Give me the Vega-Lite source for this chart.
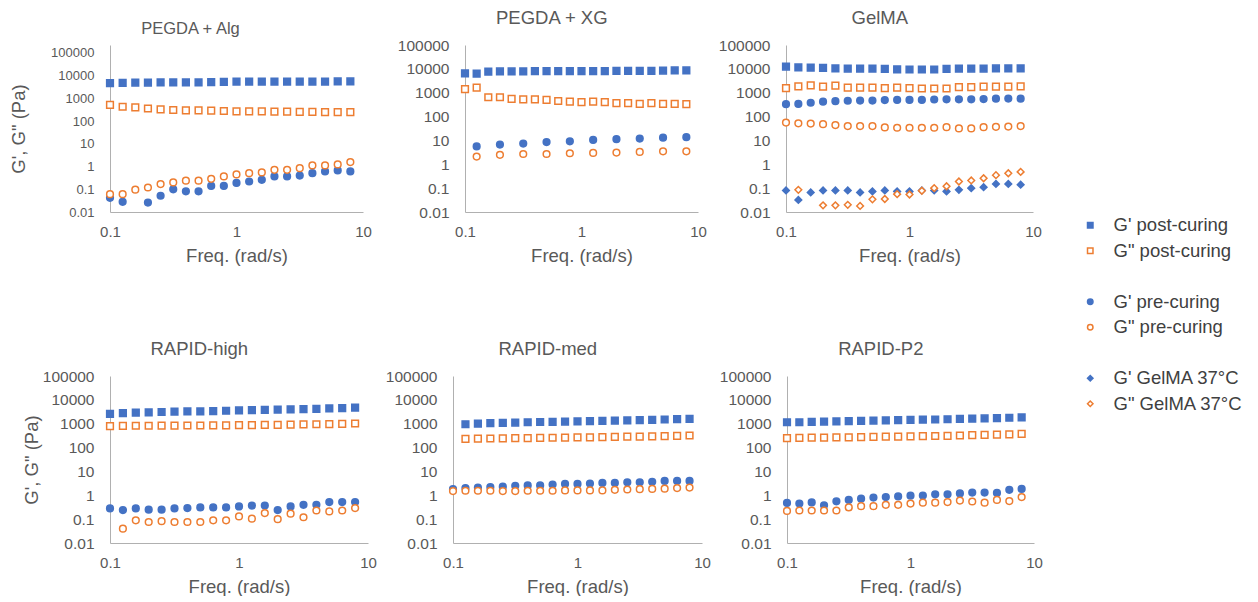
{
"$schema":"https://vega.github.io/schema/vega-lite/v6.json",
"padding":{"left":9,"top":8,"right":0,"bottom":0},
"background":"white",
"data":{"values":[
{"p":"A","s":"G' post-curing","f":0.1,"v":4700},{"p":"A","s":"G' post-curing","f":0.1259,"v":4800},{"p":"A","s":"G' post-curing","f":0.1585,"v":5000},{"p":"A","s":"G' post-curing","f":0.1995,"v":5000},{"p":"A","s":"G' post-curing","f":0.2512,"v":5100},{"p":"A","s":"G' post-curing","f":0.3162,"v":5100},{"p":"A","s":"G' post-curing","f":0.3981,"v":5100},{"p":"A","s":"G' post-curing","f":0.5012,"v":5100},{"p":"A","s":"G' post-curing","f":0.631,"v":5200},{"p":"A","s":"G' post-curing","f":0.7943,"v":5400},{"p":"A","s":"G' post-curing","f":1,"v":5500},{"p":"A","s":"G' post-curing","f":1.259,"v":5500},{"p":"A","s":"G' post-curing","f":1.585,"v":5500},{"p":"A","s":"G' post-curing","f":1.995,"v":5500},{"p":"A","s":"G' post-curing","f":2.512,"v":5500},{"p":"A","s":"G' post-curing","f":3.162,"v":5500},{"p":"A","s":"G' post-curing","f":3.981,"v":5500},{"p":"A","s":"G' post-curing","f":5.012,"v":5500},{"p":"A","s":"G' post-curing","f":6.31,"v":5600},{"p":"A","s":"G' post-curing","f":7.943,"v":5600},
{"p":"A","s":"G\" post-curing","f":0.1,"v":520},{"p":"A","s":"G\" post-curing","f":0.1259,"v":430},{"p":"A","s":"G\" post-curing","f":0.1585,"v":400},{"p":"A","s":"G\" post-curing","f":0.1995,"v":360},{"p":"A","s":"G\" post-curing","f":0.2512,"v":330},{"p":"A","s":"G\" post-curing","f":0.3162,"v":310},{"p":"A","s":"G\" post-curing","f":0.3981,"v":300},{"p":"A","s":"G\" post-curing","f":0.5012,"v":300},{"p":"A","s":"G\" post-curing","f":0.631,"v":290},{"p":"A","s":"G\" post-curing","f":0.7943,"v":280},{"p":"A","s":"G\" post-curing","f":1,"v":270},{"p":"A","s":"G\" post-curing","f":1.259,"v":270},{"p":"A","s":"G\" post-curing","f":1.585,"v":270},{"p":"A","s":"G\" post-curing","f":1.995,"v":265},{"p":"A","s":"G\" post-curing","f":2.512,"v":260},{"p":"A","s":"G\" post-curing","f":3.162,"v":255},{"p":"A","s":"G\" post-curing","f":3.981,"v":255},{"p":"A","s":"G\" post-curing","f":5.012,"v":250},{"p":"A","s":"G\" post-curing","f":6.31,"v":250},{"p":"A","s":"G\" post-curing","f":7.943,"v":250},
{"p":"A","s":"G' pre-curing","f":0.1,"v":0.042},{"p":"A","s":"G' pre-curing","f":0.1259,"v":0.028},{"p":"A","s":"G' pre-curing","f":0.1995,"v":0.026},{"p":"A","s":"G' pre-curing","f":0.2512,"v":0.052},{"p":"A","s":"G' pre-curing","f":0.3162,"v":0.1},{"p":"A","s":"G' pre-curing","f":0.3981,"v":0.081},{"p":"A","s":"G' pre-curing","f":0.5012,"v":0.081},{"p":"A","s":"G' pre-curing","f":0.631,"v":0.14},{"p":"A","s":"G' pre-curing","f":0.7943,"v":0.14},{"p":"A","s":"G' pre-curing","f":1,"v":0.19},{"p":"A","s":"G' pre-curing","f":1.259,"v":0.22},{"p":"A","s":"G' pre-curing","f":1.585,"v":0.26},{"p":"A","s":"G' pre-curing","f":1.995,"v":0.37},{"p":"A","s":"G' pre-curing","f":2.512,"v":0.37},{"p":"A","s":"G' pre-curing","f":3.162,"v":0.4},{"p":"A","s":"G' pre-curing","f":3.981,"v":0.51},{"p":"A","s":"G' pre-curing","f":5.012,"v":0.61},{"p":"A","s":"G' pre-curing","f":6.31,"v":0.68},{"p":"A","s":"G' pre-curing","f":7.943,"v":0.61},
{"p":"A","s":"G\" pre-curing","f":0.1,"v":0.061},{"p":"A","s":"G\" pre-curing","f":0.1259,"v":0.061},{"p":"A","s":"G\" pre-curing","f":0.1585,"v":0.096},{"p":"A","s":"G\" pre-curing","f":0.1995,"v":0.12},{"p":"A","s":"G\" pre-curing","f":0.2512,"v":0.17},{"p":"A","s":"G\" pre-curing","f":0.3162,"v":0.2},{"p":"A","s":"G\" pre-curing","f":0.3981,"v":0.24},{"p":"A","s":"G\" pre-curing","f":0.5012,"v":0.24},{"p":"A","s":"G\" pre-curing","f":0.631,"v":0.29},{"p":"A","s":"G\" pre-curing","f":0.7943,"v":0.37},{"p":"A","s":"G\" pre-curing","f":1,"v":0.45},{"p":"A","s":"G\" pre-curing","f":1.259,"v":0.51},{"p":"A","s":"G\" pre-curing","f":1.585,"v":0.55},{"p":"A","s":"G\" pre-curing","f":1.995,"v":0.72},{"p":"A","s":"G\" pre-curing","f":2.512,"v":0.72},{"p":"A","s":"G\" pre-curing","f":3.162,"v":0.85},{"p":"A","s":"G\" pre-curing","f":3.981,"v":1.12},{"p":"A","s":"G\" pre-curing","f":5.012,"v":1.12},{"p":"A","s":"G\" pre-curing","f":6.31,"v":1.24},{"p":"A","s":"G\" pre-curing","f":7.943,"v":1.58},
{"p":"X","s":"G' post-curing","f":0.1,"v":6500},{"p":"X","s":"G' post-curing","f":0.1259,"v":6300},{"p":"X","s":"G' post-curing","f":0.1585,"v":7600},{"p":"X","s":"G' post-curing","f":0.1995,"v":7800},{"p":"X","s":"G' post-curing","f":0.2512,"v":7800},{"p":"X","s":"G' post-curing","f":0.3162,"v":7900},{"p":"X","s":"G' post-curing","f":0.3981,"v":8000},{"p":"X","s":"G' post-curing","f":0.5012,"v":8000},{"p":"X","s":"G' post-curing","f":0.631,"v":8000},{"p":"X","s":"G' post-curing","f":0.7943,"v":8100},{"p":"X","s":"G' post-curing","f":1,"v":8100},{"p":"X","s":"G' post-curing","f":1.259,"v":8100},{"p":"X","s":"G' post-curing","f":1.585,"v":8100},{"p":"X","s":"G' post-curing","f":1.995,"v":8200},{"p":"X","s":"G' post-curing","f":2.512,"v":8200},{"p":"X","s":"G' post-curing","f":3.162,"v":8200},{"p":"X","s":"G' post-curing","f":3.981,"v":8300},{"p":"X","s":"G' post-curing","f":5.012,"v":8500},{"p":"X","s":"G' post-curing","f":6.31,"v":8600},{"p":"X","s":"G' post-curing","f":7.943,"v":8600},
{"p":"X","s":"G\" post-curing","f":0.1,"v":1400},{"p":"X","s":"G\" post-curing","f":0.1259,"v":1640},{"p":"X","s":"G\" post-curing","f":0.1585,"v":645},{"p":"X","s":"G\" post-curing","f":0.1995,"v":645},{"p":"X","s":"G\" post-curing","f":0.2512,"v":550},{"p":"X","s":"G\" post-curing","f":0.3162,"v":530},{"p":"X","s":"G\" post-curing","f":0.3981,"v":530},{"p":"X","s":"G\" post-curing","f":0.5012,"v":500},{"p":"X","s":"G\" post-curing","f":0.631,"v":450},{"p":"X","s":"G\" post-curing","f":0.7943,"v":425},{"p":"X","s":"G\" post-curing","f":1,"v":400},{"p":"X","s":"G\" post-curing","f":1.259,"v":420},{"p":"X","s":"G\" post-curing","f":1.585,"v":400},{"p":"X","s":"G\" post-curing","f":1.995,"v":365},{"p":"X","s":"G\" post-curing","f":2.512,"v":365},{"p":"X","s":"G\" post-curing","f":3.162,"v":340},{"p":"X","s":"G\" post-curing","f":3.981,"v":365},{"p":"X","s":"G\" post-curing","f":5.012,"v":340},{"p":"X","s":"G\" post-curing","f":6.31,"v":340},{"p":"X","s":"G\" post-curing","f":7.943,"v":330},
{"p":"X","s":"G' pre-curing","f":0.1259,"v":5.6},{"p":"X","s":"G' pre-curing","f":0.1995,"v":6.7},{"p":"X","s":"G' pre-curing","f":0.3162,"v":7.4},{"p":"X","s":"G' pre-curing","f":0.5012,"v":8.5},{"p":"X","s":"G' pre-curing","f":0.7943,"v":9.2},{"p":"X","s":"G' pre-curing","f":1.259,"v":10.5},{"p":"X","s":"G' pre-curing","f":1.995,"v":11.3},{"p":"X","s":"G' pre-curing","f":3.162,"v":12},{"p":"X","s":"G' pre-curing","f":5.012,"v":13},{"p":"X","s":"G' pre-curing","f":7.943,"v":13.7},
{"p":"X","s":"G\" pre-curing","f":0.1259,"v":2.1},{"p":"X","s":"G\" pre-curing","f":0.1995,"v":2.5},{"p":"X","s":"G\" pre-curing","f":0.3162,"v":2.7},{"p":"X","s":"G\" pre-curing","f":0.5012,"v":2.7},{"p":"X","s":"G\" pre-curing","f":0.7943,"v":2.9},{"p":"X","s":"G\" pre-curing","f":1.259,"v":3.0},{"p":"X","s":"G\" pre-curing","f":1.995,"v":3.1},{"p":"X","s":"G\" pre-curing","f":3.162,"v":3.3},{"p":"X","s":"G\" pre-curing","f":5.012,"v":3.5},{"p":"X","s":"G\" pre-curing","f":7.943,"v":3.5},
{"p":"G","s":"G' post-curing","f":0.1,"v":12500},{"p":"G","s":"G' post-curing","f":0.1259,"v":11500},{"p":"G","s":"G' post-curing","f":0.1585,"v":11200},{"p":"G","s":"G' post-curing","f":0.1995,"v":11000},{"p":"G","s":"G' post-curing","f":0.2512,"v":10500},{"p":"G","s":"G' post-curing","f":0.3162,"v":10300},{"p":"G","s":"G' post-curing","f":0.3981,"v":10200},{"p":"G","s":"G' post-curing","f":0.5012,"v":10200},{"p":"G","s":"G' post-curing","f":0.631,"v":10000},{"p":"G","s":"G' post-curing","f":0.7943,"v":9600},{"p":"G","s":"G' post-curing","f":1,"v":9400},{"p":"G","s":"G' post-curing","f":1.259,"v":9400},{"p":"G","s":"G' post-curing","f":1.585,"v":9400},{"p":"G","s":"G' post-curing","f":1.995,"v":10000},{"p":"G","s":"G' post-curing","f":2.512,"v":10200},{"p":"G","s":"G' post-curing","f":3.162,"v":10300},{"p":"G","s":"G' post-curing","f":3.981,"v":10300},{"p":"G","s":"G' post-curing","f":5.012,"v":10400},{"p":"G","s":"G' post-curing","f":6.31,"v":10500},{"p":"G","s":"G' post-curing","f":7.943,"v":10500},
{"p":"G","s":"G\" post-curing","f":0.1,"v":1550},{"p":"G","s":"G\" post-curing","f":0.1259,"v":1850},{"p":"G","s":"G\" post-curing","f":0.1585,"v":2050},{"p":"G","s":"G\" post-curing","f":0.1995,"v":1800},{"p":"G","s":"G\" post-curing","f":0.2512,"v":2000},{"p":"G","s":"G\" post-curing","f":0.3162,"v":1650},{"p":"G","s":"G\" post-curing","f":0.3981,"v":1650},{"p":"G","s":"G\" post-curing","f":0.5012,"v":1650},{"p":"G","s":"G\" post-curing","f":0.631,"v":1550},{"p":"G","s":"G\" post-curing","f":0.7943,"v":1650},{"p":"G","s":"G\" post-curing","f":1,"v":1550},{"p":"G","s":"G\" post-curing","f":1.259,"v":1500},{"p":"G","s":"G\" post-curing","f":1.585,"v":1500},{"p":"G","s":"G\" post-curing","f":1.995,"v":1500},{"p":"G","s":"G\" post-curing","f":2.512,"v":1700},{"p":"G","s":"G\" post-curing","f":3.162,"v":1700},{"p":"G","s":"G\" post-curing","f":3.981,"v":1800},{"p":"G","s":"G\" post-curing","f":5.012,"v":1800},{"p":"G","s":"G\" post-curing","f":6.31,"v":1800},{"p":"G","s":"G\" post-curing","f":7.943,"v":1850},
{"p":"G","s":"G' pre-curing","f":0.1,"v":330},{"p":"G","s":"G' pre-curing","f":0.1259,"v":340},{"p":"G","s":"G' pre-curing","f":0.1585,"v":380},{"p":"G","s":"G' pre-curing","f":0.1995,"v":420},{"p":"G","s":"G' pre-curing","f":0.2512,"v":440},{"p":"G","s":"G' pre-curing","f":0.3162,"v":460},{"p":"G","s":"G' pre-curing","f":0.3981,"v":470},{"p":"G","s":"G' pre-curing","f":0.5012,"v":470},{"p":"G","s":"G' pre-curing","f":0.631,"v":490},{"p":"G","s":"G' pre-curing","f":0.7943,"v":500},{"p":"G","s":"G' pre-curing","f":1,"v":500},{"p":"G","s":"G' pre-curing","f":1.259,"v":500},{"p":"G","s":"G' pre-curing","f":1.585,"v":520},{"p":"G","s":"G' pre-curing","f":1.995,"v":530},{"p":"G","s":"G' pre-curing","f":2.512,"v":530},{"p":"G","s":"G' pre-curing","f":3.162,"v":530},{"p":"G","s":"G' pre-curing","f":3.981,"v":540},{"p":"G","s":"G' pre-curing","f":5.012,"v":560},{"p":"G","s":"G' pre-curing","f":6.31,"v":570},{"p":"G","s":"G' pre-curing","f":7.943,"v":560},
{"p":"G","s":"G\" pre-curing","f":0.1,"v":56},{"p":"G","s":"G\" pre-curing","f":0.1259,"v":52},{"p":"G","s":"G\" pre-curing","f":0.1585,"v":51},{"p":"G","s":"G\" pre-curing","f":0.1995,"v":48},{"p":"G","s":"G\" pre-curing","f":0.2512,"v":44},{"p":"G","s":"G\" pre-curing","f":0.3162,"v":40},{"p":"G","s":"G\" pre-curing","f":0.3981,"v":40},{"p":"G","s":"G\" pre-curing","f":0.5012,"v":40},{"p":"G","s":"G\" pre-curing","f":0.631,"v":35},{"p":"G","s":"G\" pre-curing","f":0.7943,"v":34},{"p":"G","s":"G\" pre-curing","f":1,"v":34},{"p":"G","s":"G\" pre-curing","f":1.259,"v":34},{"p":"G","s":"G\" pre-curing","f":1.585,"v":34},{"p":"G","s":"G\" pre-curing","f":1.995,"v":36},{"p":"G","s":"G\" pre-curing","f":2.512,"v":32},{"p":"G","s":"G\" pre-curing","f":3.162,"v":32},{"p":"G","s":"G\" pre-curing","f":3.981,"v":36},{"p":"G","s":"G\" pre-curing","f":5.012,"v":37},{"p":"G","s":"G\" pre-curing","f":6.31,"v":38},{"p":"G","s":"G\" pre-curing","f":7.943,"v":40},
{"p":"G","s":"G' GelMA 37°C","f":0.1,"v":0.08},{"p":"G","s":"G' GelMA 37°C","f":0.1259,"v":0.032},{"p":"G","s":"G' GelMA 37°C","f":0.1585,"v":0.066},{"p":"G","s":"G' GelMA 37°C","f":0.1995,"v":0.08},{"p":"G","s":"G' GelMA 37°C","f":0.2512,"v":0.08},{"p":"G","s":"G' GelMA 37°C","f":0.3162,"v":0.08},{"p":"G","s":"G' GelMA 37°C","f":0.3981,"v":0.066},{"p":"G","s":"G' GelMA 37°C","f":0.5012,"v":0.073},{"p":"G","s":"G' GelMA 37°C","f":0.631,"v":0.08},{"p":"G","s":"G' GelMA 37°C","f":0.7943,"v":0.073},{"p":"G","s":"G' GelMA 37°C","f":1,"v":0.073},{"p":"G","s":"G' GelMA 37°C","f":1.259,"v":0.08},{"p":"G","s":"G' GelMA 37°C","f":1.585,"v":0.08},{"p":"G","s":"G' GelMA 37°C","f":1.995,"v":0.073},{"p":"G","s":"G' GelMA 37°C","f":2.512,"v":0.085},{"p":"G","s":"G' GelMA 37°C","f":3.162,"v":0.1},{"p":"G","s":"G' GelMA 37°C","f":3.981,"v":0.11},{"p":"G","s":"G' GelMA 37°C","f":5.012,"v":0.15},{"p":"G","s":"G' GelMA 37°C","f":6.31,"v":0.15},{"p":"G","s":"G' GelMA 37°C","f":7.943,"v":0.14},
{"p":"G","s":"G\" GelMA 37°C","f":0.1259,"v":0.085},{"p":"G","s":"G\" GelMA 37°C","f":0.1995,"v":0.019},{"p":"G","s":"G\" GelMA 37°C","f":0.2512,"v":0.019},{"p":"G","s":"G\" GelMA 37°C","f":0.3162,"v":0.02},{"p":"G","s":"G\" GelMA 37°C","f":0.3981,"v":0.018},{"p":"G","s":"G\" GelMA 37°C","f":0.5012,"v":0.034},{"p":"G","s":"G\" GelMA 37°C","f":0.631,"v":0.035},{"p":"G","s":"G\" GelMA 37°C","f":0.7943,"v":0.056},{"p":"G","s":"G\" GelMA 37°C","f":1,"v":0.054},{"p":"G","s":"G\" GelMA 37°C","f":1.259,"v":0.078},{"p":"G","s":"G\" GelMA 37°C","f":1.585,"v":0.1},{"p":"G","s":"G\" GelMA 37°C","f":1.995,"v":0.12},{"p":"G","s":"G\" GelMA 37°C","f":2.512,"v":0.19},{"p":"G","s":"G\" GelMA 37°C","f":3.162,"v":0.21},{"p":"G","s":"G\" GelMA 37°C","f":3.981,"v":0.26},{"p":"G","s":"G\" GelMA 37°C","f":5.012,"v":0.35},{"p":"G","s":"G\" GelMA 37°C","f":6.31,"v":0.42},{"p":"G","s":"G\" GelMA 37°C","f":7.943,"v":0.48},
{"p":"H","s":"G' post-curing","f":0.1,"v":2600},{"p":"H","s":"G' post-curing","f":0.1259,"v":2800},{"p":"H","s":"G' post-curing","f":0.1585,"v":2900},{"p":"H","s":"G' post-curing","f":0.1995,"v":3000},{"p":"H","s":"G' post-curing","f":0.2512,"v":3100},{"p":"H","s":"G' post-curing","f":0.3162,"v":3200},{"p":"H","s":"G' post-curing","f":0.3981,"v":3300},{"p":"H","s":"G' post-curing","f":0.5012,"v":3300},{"p":"H","s":"G' post-curing","f":0.631,"v":3400},{"p":"H","s":"G' post-curing","f":0.7943,"v":3500},{"p":"H","s":"G' post-curing","f":1,"v":3600},{"p":"H","s":"G' post-curing","f":1.259,"v":3700},{"p":"H","s":"G' post-curing","f":1.585,"v":3800},{"p":"H","s":"G' post-curing","f":1.995,"v":3900},{"p":"H","s":"G' post-curing","f":2.512,"v":4000},{"p":"H","s":"G' post-curing","f":3.162,"v":4100},{"p":"H","s":"G' post-curing","f":3.981,"v":4200},{"p":"H","s":"G' post-curing","f":5.012,"v":4400},{"p":"H","s":"G' post-curing","f":6.31,"v":4500},{"p":"H","s":"G' post-curing","f":7.943,"v":4700},
{"p":"H","s":"G\" post-curing","f":0.1,"v":800},{"p":"H","s":"G\" post-curing","f":0.1259,"v":810},{"p":"H","s":"G\" post-curing","f":0.1585,"v":820},{"p":"H","s":"G\" post-curing","f":0.1995,"v":820},{"p":"H","s":"G\" post-curing","f":0.2512,"v":830},{"p":"H","s":"G\" post-curing","f":0.3162,"v":830},{"p":"H","s":"G\" post-curing","f":0.3981,"v":840},{"p":"H","s":"G\" post-curing","f":0.5012,"v":840},{"p":"H","s":"G\" post-curing","f":0.631,"v":850},{"p":"H","s":"G\" post-curing","f":0.7943,"v":860},{"p":"H","s":"G\" post-curing","f":1,"v":870},{"p":"H","s":"G\" post-curing","f":1.259,"v":880},{"p":"H","s":"G\" post-curing","f":1.585,"v":890},{"p":"H","s":"G\" post-curing","f":1.995,"v":900},{"p":"H","s":"G\" post-curing","f":2.512,"v":910},{"p":"H","s":"G\" post-curing","f":3.162,"v":930},{"p":"H","s":"G\" post-curing","f":3.981,"v":950},{"p":"H","s":"G\" post-curing","f":5.012,"v":970},{"p":"H","s":"G\" post-curing","f":6.31,"v":990},{"p":"H","s":"G\" post-curing","f":7.943,"v":1020},
{"p":"H","s":"G' pre-curing","f":0.1,"v":0.28},{"p":"H","s":"G' pre-curing","f":0.1259,"v":0.24},{"p":"H","s":"G' pre-curing","f":0.1585,"v":0.28},{"p":"H","s":"G' pre-curing","f":0.1995,"v":0.25},{"p":"H","s":"G' pre-curing","f":0.2512,"v":0.25},{"p":"H","s":"G' pre-curing","f":0.3162,"v":0.28},{"p":"H","s":"G' pre-curing","f":0.3981,"v":0.29},{"p":"H","s":"G' pre-curing","f":0.5012,"v":0.31},{"p":"H","s":"G' pre-curing","f":0.631,"v":0.31},{"p":"H","s":"G' pre-curing","f":0.7943,"v":0.31},{"p":"H","s":"G' pre-curing","f":1,"v":0.34},{"p":"H","s":"G' pre-curing","f":1.259,"v":0.37},{"p":"H","s":"G' pre-curing","f":1.585,"v":0.37},{"p":"H","s":"G' pre-curing","f":1.995,"v":0.24},{"p":"H","s":"G' pre-curing","f":2.512,"v":0.34},{"p":"H","s":"G' pre-curing","f":3.162,"v":0.4},{"p":"H","s":"G' pre-curing","f":3.981,"v":0.4},{"p":"H","s":"G' pre-curing","f":5.012,"v":0.52},{"p":"H","s":"G' pre-curing","f":6.31,"v":0.52},{"p":"H","s":"G' pre-curing","f":7.943,"v":0.52},
{"p":"H","s":"G\" pre-curing","f":0.1259,"v":0.04},{"p":"H","s":"G\" pre-curing","f":0.1585,"v":0.089},{"p":"H","s":"G\" pre-curing","f":0.1995,"v":0.076},{"p":"H","s":"G\" pre-curing","f":0.2512,"v":0.082},{"p":"H","s":"G\" pre-curing","f":0.3162,"v":0.076},{"p":"H","s":"G\" pre-curing","f":0.3981,"v":0.076},{"p":"H","s":"G\" pre-curing","f":0.5012,"v":0.076},{"p":"H","s":"G\" pre-curing","f":0.631,"v":0.089},{"p":"H","s":"G\" pre-curing","f":0.7943,"v":0.089},{"p":"H","s":"G\" pre-curing","f":1,"v":0.13},{"p":"H","s":"G\" pre-curing","f":1.259,"v":0.105},{"p":"H","s":"G\" pre-curing","f":1.585,"v":0.18},{"p":"H","s":"G\" pre-curing","f":1.995,"v":0.1},{"p":"H","s":"G\" pre-curing","f":2.512,"v":0.17},{"p":"H","s":"G\" pre-curing","f":3.162,"v":0.12},{"p":"H","s":"G\" pre-curing","f":3.981,"v":0.23},{"p":"H","s":"G\" pre-curing","f":5.012,"v":0.21},{"p":"H","s":"G\" pre-curing","f":6.31,"v":0.23},{"p":"H","s":"G\" pre-curing","f":7.943,"v":0.29},
{"p":"M","s":"G' post-curing","f":0.1259,"v":950},{"p":"M","s":"G' post-curing","f":0.1585,"v":1000},{"p":"M","s":"G' post-curing","f":0.1995,"v":1050},{"p":"M","s":"G' post-curing","f":0.2512,"v":1080},{"p":"M","s":"G' post-curing","f":0.3162,"v":1120},{"p":"M","s":"G' post-curing","f":0.3981,"v":1150},{"p":"M","s":"G' post-curing","f":0.5012,"v":1180},{"p":"M","s":"G' post-curing","f":0.631,"v":1200},{"p":"M","s":"G' post-curing","f":0.7943,"v":1230},{"p":"M","s":"G' post-curing","f":1,"v":1260},{"p":"M","s":"G' post-curing","f":1.259,"v":1290},{"p":"M","s":"G' post-curing","f":1.585,"v":1320},{"p":"M","s":"G' post-curing","f":1.995,"v":1350},{"p":"M","s":"G' post-curing","f":2.512,"v":1380},{"p":"M","s":"G' post-curing","f":3.162,"v":1420},{"p":"M","s":"G' post-curing","f":3.981,"v":1460},{"p":"M","s":"G' post-curing","f":5.012,"v":1500},{"p":"M","s":"G' post-curing","f":6.31,"v":1550},{"p":"M","s":"G' post-curing","f":7.943,"v":1600},
{"p":"M","s":"G\" post-curing","f":0.1259,"v":230},{"p":"M","s":"G\" post-curing","f":0.1585,"v":235},{"p":"M","s":"G\" post-curing","f":0.1995,"v":240},{"p":"M","s":"G\" post-curing","f":0.2512,"v":245},{"p":"M","s":"G\" post-curing","f":0.3162,"v":248},{"p":"M","s":"G\" post-curing","f":0.3981,"v":250},{"p":"M","s":"G\" post-curing","f":0.5012,"v":255},{"p":"M","s":"G\" post-curing","f":0.631,"v":258},{"p":"M","s":"G\" post-curing","f":0.7943,"v":262},{"p":"M","s":"G\" post-curing","f":1,"v":265},{"p":"M","s":"G\" post-curing","f":1.259,"v":270},{"p":"M","s":"G\" post-curing","f":1.585,"v":275},{"p":"M","s":"G\" post-curing","f":1.995,"v":280},{"p":"M","s":"G\" post-curing","f":2.512,"v":285},{"p":"M","s":"G\" post-curing","f":3.162,"v":290},{"p":"M","s":"G\" post-curing","f":3.981,"v":295},{"p":"M","s":"G\" post-curing","f":5.012,"v":300},{"p":"M","s":"G\" post-curing","f":6.31,"v":310},{"p":"M","s":"G\" post-curing","f":7.943,"v":320},
{"p":"M","s":"G' pre-curing","f":0.1,"v":1.8},{"p":"M","s":"G' pre-curing","f":0.1259,"v":2.0},{"p":"M","s":"G' pre-curing","f":0.1585,"v":2.1},{"p":"M","s":"G' pre-curing","f":0.1995,"v":2.2},{"p":"M","s":"G' pre-curing","f":0.2512,"v":2.3},{"p":"M","s":"G' pre-curing","f":0.3162,"v":2.5},{"p":"M","s":"G' pre-curing","f":0.3981,"v":2.6},{"p":"M","s":"G' pre-curing","f":0.5012,"v":2.6},{"p":"M","s":"G' pre-curing","f":0.631,"v":2.8},{"p":"M","s":"G' pre-curing","f":0.7943,"v":3.0},{"p":"M","s":"G' pre-curing","f":1,"v":3.0},{"p":"M","s":"G' pre-curing","f":1.259,"v":3.1},{"p":"M","s":"G' pre-curing","f":1.585,"v":3.3},{"p":"M","s":"G' pre-curing","f":1.995,"v":3.3},{"p":"M","s":"G' pre-curing","f":2.512,"v":3.5},{"p":"M","s":"G' pre-curing","f":3.162,"v":3.5},{"p":"M","s":"G' pre-curing","f":3.981,"v":3.7},{"p":"M","s":"G' pre-curing","f":5.012,"v":4.0},{"p":"M","s":"G' pre-curing","f":6.31,"v":4.0},{"p":"M","s":"G' pre-curing","f":7.943,"v":4.0},
{"p":"M","s":"G\" pre-curing","f":0.1,"v":1.5},{"p":"M","s":"G\" pre-curing","f":0.1259,"v":1.55},{"p":"M","s":"G\" pre-curing","f":0.1585,"v":1.55},{"p":"M","s":"G\" pre-curing","f":0.1995,"v":1.55},{"p":"M","s":"G\" pre-curing","f":0.2512,"v":1.5},{"p":"M","s":"G\" pre-curing","f":0.3162,"v":1.5},{"p":"M","s":"G\" pre-curing","f":0.3981,"v":1.55},{"p":"M","s":"G\" pre-curing","f":0.5012,"v":1.55},{"p":"M","s":"G\" pre-curing","f":0.631,"v":1.55},{"p":"M","s":"G\" pre-curing","f":0.7943,"v":1.6},{"p":"M","s":"G\" pre-curing","f":1,"v":1.6},{"p":"M","s":"G\" pre-curing","f":1.259,"v":1.6},{"p":"M","s":"G\" pre-curing","f":1.585,"v":1.6},{"p":"M","s":"G\" pre-curing","f":1.995,"v":1.7},{"p":"M","s":"G\" pre-curing","f":2.512,"v":1.75},{"p":"M","s":"G\" pre-curing","f":3.162,"v":1.8},{"p":"M","s":"G\" pre-curing","f":3.981,"v":1.85},{"p":"M","s":"G\" pre-curing","f":5.012,"v":1.9},{"p":"M","s":"G\" pre-curing","f":6.31,"v":2.0},{"p":"M","s":"G\" pre-curing","f":7.943,"v":2.1},
{"p":"P","s":"G' post-curing","f":0.1,"v":1150},{"p":"P","s":"G' post-curing","f":0.1259,"v":1150},{"p":"P","s":"G' post-curing","f":0.1585,"v":1200},{"p":"P","s":"G' post-curing","f":0.1995,"v":1230},{"p":"P","s":"G' post-curing","f":0.2512,"v":1260},{"p":"P","s":"G' post-curing","f":0.3162,"v":1290},{"p":"P","s":"G' post-curing","f":0.3981,"v":1320},{"p":"P","s":"G' post-curing","f":0.5012,"v":1350},{"p":"P","s":"G' post-curing","f":0.631,"v":1380},{"p":"P","s":"G' post-curing","f":0.7943,"v":1410},{"p":"P","s":"G' post-curing","f":1,"v":1440},{"p":"P","s":"G' post-curing","f":1.259,"v":1470},{"p":"P","s":"G' post-curing","f":1.585,"v":1500},{"p":"P","s":"G' post-curing","f":1.995,"v":1540},{"p":"P","s":"G' post-curing","f":2.512,"v":1580},{"p":"P","s":"G' post-curing","f":3.162,"v":1620},{"p":"P","s":"G' post-curing","f":3.981,"v":1660},{"p":"P","s":"G' post-curing","f":5.012,"v":1720},{"p":"P","s":"G' post-curing","f":6.31,"v":1780},{"p":"P","s":"G' post-curing","f":7.943,"v":1850},
{"p":"P","s":"G\" post-curing","f":0.1,"v":250},{"p":"P","s":"G\" post-curing","f":0.1259,"v":255},{"p":"P","s":"G\" post-curing","f":0.1585,"v":260},{"p":"P","s":"G\" post-curing","f":0.1995,"v":262},{"p":"P","s":"G\" post-curing","f":0.2512,"v":265},{"p":"P","s":"G\" post-curing","f":0.3162,"v":270},{"p":"P","s":"G\" post-curing","f":0.3981,"v":275},{"p":"P","s":"G\" post-curing","f":0.5012,"v":280},{"p":"P","s":"G\" post-curing","f":0.631,"v":285},{"p":"P","s":"G\" post-curing","f":0.7943,"v":290},{"p":"P","s":"G\" post-curing","f":1,"v":295},{"p":"P","s":"G\" post-curing","f":1.259,"v":300},{"p":"P","s":"G\" post-curing","f":1.585,"v":305},{"p":"P","s":"G\" post-curing","f":1.995,"v":310},{"p":"P","s":"G\" post-curing","f":2.512,"v":320},{"p":"P","s":"G\" post-curing","f":3.162,"v":330},{"p":"P","s":"G\" post-curing","f":3.981,"v":340},{"p":"P","s":"G\" post-curing","f":5.012,"v":350},{"p":"P","s":"G\" post-curing","f":6.31,"v":360},{"p":"P","s":"G\" post-curing","f":7.943,"v":375},
{"p":"P","s":"G' pre-curing","f":0.1,"v":0.48},{"p":"P","s":"G' pre-curing","f":0.1259,"v":0.45},{"p":"P","s":"G' pre-curing","f":0.1585,"v":0.5},{"p":"P","s":"G' pre-curing","f":0.1995,"v":0.38},{"p":"P","s":"G' pre-curing","f":0.2512,"v":0.56},{"p":"P","s":"G' pre-curing","f":0.3162,"v":0.64},{"p":"P","s":"G' pre-curing","f":0.3981,"v":0.72},{"p":"P","s":"G' pre-curing","f":0.5012,"v":0.8},{"p":"P","s":"G' pre-curing","f":0.631,"v":0.84},{"p":"P","s":"G' pre-curing","f":0.7943,"v":0.9},{"p":"P","s":"G' pre-curing","f":1,"v":0.96},{"p":"P","s":"G' pre-curing","f":1.259,"v":0.98},{"p":"P","s":"G' pre-curing","f":1.585,"v":1.1},{"p":"P","s":"G' pre-curing","f":1.995,"v":1.1},{"p":"P","s":"G' pre-curing","f":2.512,"v":1.2},{"p":"P","s":"G' pre-curing","f":3.162,"v":1.3},{"p":"P","s":"G' pre-curing","f":3.981,"v":1.3},{"p":"P","s":"G' pre-curing","f":5.012,"v":1.25},{"p":"P","s":"G' pre-curing","f":6.31,"v":1.7},{"p":"P","s":"G' pre-curing","f":7.943,"v":1.85},
{"p":"P","s":"G\" pre-curing","f":0.1,"v":0.22},{"p":"P","s":"G\" pre-curing","f":0.1259,"v":0.23},{"p":"P","s":"G\" pre-curing","f":0.1585,"v":0.23},{"p":"P","s":"G\" pre-curing","f":0.1995,"v":0.23},{"p":"P","s":"G\" pre-curing","f":0.2512,"v":0.23},{"p":"P","s":"G\" pre-curing","f":0.3162,"v":0.31},{"p":"P","s":"G\" pre-curing","f":0.3981,"v":0.35},{"p":"P","s":"G\" pre-curing","f":0.5012,"v":0.35},{"p":"P","s":"G\" pre-curing","f":0.631,"v":0.4},{"p":"P","s":"G\" pre-curing","f":0.7943,"v":0.4},{"p":"P","s":"G\" pre-curing","f":1,"v":0.45},{"p":"P","s":"G\" pre-curing","f":1.259,"v":0.49},{"p":"P","s":"G\" pre-curing","f":1.585,"v":0.49},{"p":"P","s":"G\" pre-curing","f":1.995,"v":0.52},{"p":"P","s":"G\" pre-curing","f":2.512,"v":0.6},{"p":"P","s":"G\" pre-curing","f":3.162,"v":0.55},{"p":"P","s":"G\" pre-curing","f":3.981,"v":0.49},{"p":"P","s":"G\" pre-curing","f":5.012,"v":0.64},{"p":"P","s":"G\" pre-curing","f":6.31,"v":0.57},{"p":"P","s":"G\" pre-curing","f":7.943,"v":0.84}
]},
"vconcat":[
{"hconcat":[
{"title":{"text":"PEGDA + Alg","fontSize":16.5,"offset":8},"width":253,"height":167,"transform":[{"filter":"datum.p==='A'"}],
 "mark":{"type":"point","size":45,"strokeWidth":1.5,"opacity":1},
 "encoding":{
  "x":{"field":"f","type":"quantitative","scale":{"type":"log","domain":[0.1,10],"nice":false},"axis":{"values":[0.1,1,10],"format":"~g","title":"Freq. (rad/s)"}},
  "y":{"field":"v","type":"quantitative","scale":{"type":"log","domain":[0.01,225000],"nice":false},"axis":{"values":[0.01,0.1,1,10,100,1000,10000,100000],"format":"~g","title":"G', G\" (Pa)","labelFontSize":13,"titlePadding":22}},
  "fill":{"field":"s","type":"nominal","scale":{"domain":["G' post-curing","G\" post-curing"," ","G' pre-curing","G\" pre-curing","  ","G' GelMA 37°C","G\" GelMA 37°C"],"range":["#4472C4","#ffffff","transparent","#4472C4","#ffffff","transparent","#4472C4","#ffffff"]},"legend":{"title":null,"orient":"none","legendX":971,"legendY":171}},
  "stroke":{"field":"s","type":"nominal","scale":{"domain":["G' post-curing","G\" post-curing"," ","G' pre-curing","G\" pre-curing","  ","G' GelMA 37°C","G\" GelMA 37°C"],"range":["#4472C4","#ED7D31","transparent","#4472C4","#ED7D31","transparent","#4472C4","#ED7D31"]},"legend":{"title":null,"orient":"none","legendX":971,"legendY":171}},
  "shape":{"field":"s","type":"nominal","scale":{"domain":["G' post-curing","G\" post-curing"," ","G' pre-curing","G\" pre-curing","  ","G' GelMA 37°C","G\" GelMA 37°C"],"range":["square","square","circle","circle","circle","circle","diamond","diamond"]},"legend":{"title":null,"orient":"none","legendX":971,"legendY":171}}
 }},
{"hconcat":[
{"title":"PEGDA + XG","width":233,"height":167,"transform":[{"filter":"datum.p==='X'"}],
 "mark":{"type":"point","size":45,"strokeWidth":1.5,"opacity":1},
 "encoding":{
  "x":{"field":"f","type":"quantitative","scale":{"type":"log","domain":[0.1,10],"nice":false},"axis":{"values":[0.1,1,10],"format":"~g","title":"Freq. (rad/s)"}},
  "y":{"field":"v","type":"quantitative","scale":{"type":"log","domain":[0.01,100000],"nice":false},"axis":{"values":[0.01,0.1,1,10,100,1000,10000,100000],"format":"~g","title":null}},
  "fill":{"field":"s","type":"nominal","scale":{"domain":["G' post-curing","G\" post-curing"," ","G' pre-curing","G\" pre-curing","  ","G' GelMA 37°C","G\" GelMA 37°C"],"range":["#4472C4","#ffffff","transparent","#4472C4","#ffffff","transparent","#4472C4","#ffffff"]},"legend":{"title":null,"orient":"none","legendX":971,"legendY":171}},
  "stroke":{"field":"s","type":"nominal","scale":{"domain":["G' post-curing","G\" post-curing"," ","G' pre-curing","G\" pre-curing","  ","G' GelMA 37°C","G\" GelMA 37°C"],"range":["#4472C4","#ED7D31","transparent","#4472C4","#ED7D31","transparent","#4472C4","#ED7D31"]},"legend":{"title":null,"orient":"none","legendX":971,"legendY":171}},
  "shape":{"field":"s","type":"nominal","scale":{"domain":["G' post-curing","G\" post-curing"," ","G' pre-curing","G\" pre-curing","  ","G' GelMA 37°C","G\" GelMA 37°C"],"range":["square","square","circle","circle","circle","circle","diamond","diamond"]},"legend":{"title":null,"orient":"none","legendX":971,"legendY":171}}
 }},
{"title":"GelMA","width":247,"height":167,"transform":[{"filter":"datum.p==='G'"}],
 "mark":{"type":"point","size":45,"strokeWidth":1.5,"opacity":1},
 "encoding":{
  "x":{"field":"f","type":"quantitative","scale":{"type":"log","domain":[0.1,10],"nice":false},"axis":{"values":[0.1,1,10],"format":"~g","title":"Freq. (rad/s)"}},
  "y":{"field":"v","type":"quantitative","scale":{"type":"log","domain":[0.01,100000],"nice":false},"axis":{"values":[0.01,0.1,1,10,100,1000,10000,100000],"format":"~g","title":null}},
  "fill":{"field":"s","type":"nominal","scale":{"domain":["G' post-curing","G\" post-curing"," ","G' pre-curing","G\" pre-curing","  ","G' GelMA 37°C","G\" GelMA 37°C"],"range":["#4472C4","#ffffff","transparent","#4472C4","#ffffff","transparent","#4472C4","#ffffff"]},"legend":{"title":null,"orient":"none","legendX":971,"legendY":171}},
  "stroke":{"field":"s","type":"nominal","scale":{"domain":["G' post-curing","G\" post-curing"," ","G' pre-curing","G\" pre-curing","  ","G' GelMA 37°C","G\" GelMA 37°C"],"range":["#4472C4","#ED7D31","transparent","#4472C4","#ED7D31","transparent","#4472C4","#ED7D31"]},"legend":{"title":null,"orient":"none","legendX":971,"legendY":171}},
  "shape":{"field":"s","type":"nominal","scale":{"domain":["G' post-curing","G\" post-curing"," ","G' pre-curing","G\" pre-curing","  ","G' GelMA 37°C","G\" GelMA 37°C"],"range":["square","square","circle","circle","circle","circle","diamond","diamond"]},"legend":{"title":null,"orient":"none","legendX":971,"legendY":171}}
 }}
],"spacing":11}
],"spacing":25},
{"hconcat":[
{"title":"RAPID-high","width":258,"height":167,"transform":[{"filter":"datum.p==='H'"}],
 "mark":{"type":"point","size":45,"strokeWidth":1.5,"opacity":1},
 "encoding":{
  "x":{"field":"f","type":"quantitative","scale":{"type":"log","domain":[0.1,10],"nice":false},"axis":{"values":[0.1,1,10],"format":"~g","title":"Freq. (rad/s)"}},
  "y":{"field":"v","type":"quantitative","scale":{"type":"log","domain":[0.01,100000],"nice":false},"axis":{"values":[0.01,0.1,1,10,100,1000,10000,100000],"format":"~g","title":"G', G\" (Pa)","titlePadding":1}},
  "fill":{"field":"s","type":"nominal","scale":{"domain":["G' post-curing","G\" post-curing"," ","G' pre-curing","G\" pre-curing","  ","G' GelMA 37°C","G\" GelMA 37°C"],"range":["#4472C4","#ffffff","transparent","#4472C4","#ffffff","transparent","#4472C4","#ffffff"]},"legend":{"title":null,"orient":"none","legendX":971,"legendY":171}},
  "stroke":{"field":"s","type":"nominal","scale":{"domain":["G' post-curing","G\" post-curing"," ","G' pre-curing","G\" pre-curing","  ","G' GelMA 37°C","G\" GelMA 37°C"],"range":["#4472C4","#ED7D31","transparent","#4472C4","#ED7D31","transparent","#4472C4","#ED7D31"]},"legend":{"title":null,"orient":"none","legendX":971,"legendY":171}},
  "shape":{"field":"s","type":"nominal","scale":{"domain":["G' post-curing","G\" post-curing"," ","G' pre-curing","G\" pre-curing","  ","G' GelMA 37°C","G\" GelMA 37°C"],"range":["square","square","circle","circle","circle","circle","diamond","diamond"]},"legend":{"title":null,"orient":"none","legendX":971,"legendY":171}}
 }},
{"title":"RAPID-med","width":249,"height":167,"transform":[{"filter":"datum.p==='M'"}],
 "mark":{"type":"point","size":45,"strokeWidth":1.5,"opacity":1},
 "encoding":{
  "x":{"field":"f","type":"quantitative","scale":{"type":"log","domain":[0.1,10],"nice":false},"axis":{"values":[0.1,1,10],"format":"~g","title":"Freq. (rad/s)"}},
  "y":{"field":"v","type":"quantitative","scale":{"type":"log","domain":[0.01,100000],"nice":false},"axis":{"values":[0.01,0.1,1,10,100,1000,10000,100000],"format":"~g","title":null}},
  "fill":{"field":"s","type":"nominal","scale":{"domain":["G' post-curing","G\" post-curing"," ","G' pre-curing","G\" pre-curing","  ","G' GelMA 37°C","G\" GelMA 37°C"],"range":["#4472C4","#ffffff","transparent","#4472C4","#ffffff","transparent","#4472C4","#ffffff"]},"legend":{"title":null,"orient":"none","legendX":971,"legendY":171}},
  "stroke":{"field":"s","type":"nominal","scale":{"domain":["G' post-curing","G\" post-curing"," ","G' pre-curing","G\" pre-curing","  ","G' GelMA 37°C","G\" GelMA 37°C"],"range":["#4472C4","#ED7D31","transparent","#4472C4","#ED7D31","transparent","#4472C4","#ED7D31"]},"legend":{"title":null,"orient":"none","legendX":971,"legendY":171}},
  "shape":{"field":"s","type":"nominal","scale":{"domain":["G' post-curing","G\" post-curing"," ","G' pre-curing","G\" pre-curing","  ","G' GelMA 37°C","G\" GelMA 37°C"],"range":["square","square","circle","circle","circle","circle","diamond","diamond"]},"legend":{"title":null,"orient":"none","legendX":971,"legendY":171}}
 }},
{"title":"RAPID-P2","width":247,"height":167,"transform":[{"filter":"datum.p==='P'"}],
 "mark":{"type":"point","size":45,"strokeWidth":1.5,"opacity":1},
 "encoding":{
  "x":{"field":"f","type":"quantitative","scale":{"type":"log","domain":[0.1,10],"nice":false},"axis":{"values":[0.1,1,10],"format":"~g","title":"Freq. (rad/s)"}},
  "y":{"field":"v","type":"quantitative","scale":{"type":"log","domain":[0.01,100000],"nice":false},"axis":{"values":[0.01,0.1,1,10,100,1000,10000,100000],"format":"~g","title":null}},
  "fill":{"field":"s","type":"nominal","scale":{"domain":["G' post-curing","G\" post-curing"," ","G' pre-curing","G\" pre-curing","  ","G' GelMA 37°C","G\" GelMA 37°C"],"range":["#4472C4","#ffffff","transparent","#4472C4","#ffffff","transparent","#4472C4","#ffffff"]},"legend":{"title":null,"orient":"none","legendX":971,"legendY":171}},
  "stroke":{"field":"s","type":"nominal","scale":{"domain":["G' post-curing","G\" post-curing"," ","G' pre-curing","G\" pre-curing","  ","G' GelMA 37°C","G\" GelMA 37°C"],"range":["#4472C4","#ED7D31","transparent","#4472C4","#ED7D31","transparent","#4472C4","#ED7D31"]},"legend":{"title":null,"orient":"none","legendX":971,"legendY":171}},
  "shape":{"field":"s","type":"nominal","scale":{"domain":["G' post-curing","G\" post-curing"," ","G' pre-curing","G\" pre-curing","  ","G' GelMA 37°C","G\" GelMA 37°C"],"range":["square","square","circle","circle","circle","circle","diamond","diamond"]},"legend":{"title":null,"orient":"none","legendX":971,"legendY":171}}
 }}
],"spacing":8}
],
"spacing":74,
"config":{
 "view":{"stroke":null},
 "font":"Liberation Sans",
 "axis":{"domainColor":"#b0b0b0","domainWidth":1,"ticks":false,"grid":false,"labelColor":"#595959","titleColor":"#595959","labelFontSize":15.5,"titleFontSize":18.5,"titleFontWeight":"normal","labelFont":"Liberation Sans","titleFont":"Liberation Sans","labelFlush":false},
 "axisX":{"labelPadding":12,"titlePadding":7,"labelFontSize":15},
 "axisY":{"labelPadding":16,"titlePadding":14},
 "title":{"fontSize":18.5,"fontWeight":"normal","color":"#595959","frame":"bounds","anchor":"middle","offset":11,"font":"Liberation Sans"},
 "legend":{"labelFontSize":18.5,"labelColor":"#404040","labelFont":"Liberation Sans","symbolSize":30,"rowPadding":6.5,"labelOffset":14,"symbolStrokeWidth":1.5}
}
}
